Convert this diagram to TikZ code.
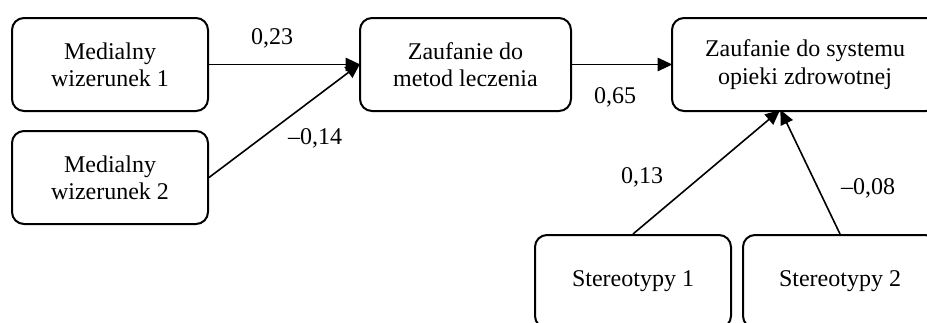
\documentclass[tikz,border=0pt]{standalone}
\usepackage{fontspec}
\setmainfont{Liberation Serif}
\usetikzlibrary{arrows.meta}
\begin{document}
\begin{tikzpicture}[x=0.75pt,y=-0.75pt,
  box/.style={draw, line width=1.5pt, rounded corners=9pt, align=center, inner sep=0pt,
    font=\fontsize{18pt}{20.5pt}\selectfont},
  conn/.style={line width=1.2pt, -{Triangle[length=11pt,width=10pt]}, shorten >=-1pt},
  lbl/.style={font=\fontsize{18pt}{20.5pt}\selectfont, inner sep=0pt}]
\useasboundingbox (0,0) rectangle (927,322);
\clip (0,0) rectangle (927,322);
\node[box, minimum width=147pt, minimum height=69.75pt] (m1) at (110,64.5) {Medialny\\wizerunek 1};
\node[box, minimum width=147pt, minimum height=69.75pt] (m2) at (110,177.5) {Medialny\\wizerunek 2};
\node[box, minimum width=158.25pt, minimum height=69.75pt] (z1) at (465.5,64.5) {Zaufanie do\\metod leczenia};
\node[box, minimum width=199.5pt, minimum height=69.75pt] (z2) at (805,64.5) {Zaufanie do systemu\\opieki zdrowotnej};
\node[box, minimum width=147pt, minimum height=69.75pt] (s1) at (633,281.5) {Stereotypy 1};
\node[box, minimum width=145.5pt, minimum height=69.75pt] (s2) at (840,281.5) {Stereotypy 2};
\coordinate (t1) at (779,111);
\coordinate (t2) at (781,111);
\draw[conn] (m1.east) -- (z1.west);
\draw[conn] (m2.east) -- (z1.west);
\draw[conn] (z1.east) -- (z2.west);
\draw[conn] (s1.north) -- (t1);
\draw[conn] (s2.north) -- (t2);
\node[lbl] (l1) at (272,38) {0,23};
\node[lbl] (l2) at (315,138) {--0,14};
\node[lbl] (l3) at (615,97) {0,65};
\node[lbl] (l4) at (642,177) {0,13};
\node[lbl] (l5) at (868,188) {--0,08};
\end{tikzpicture}
\end{document}
